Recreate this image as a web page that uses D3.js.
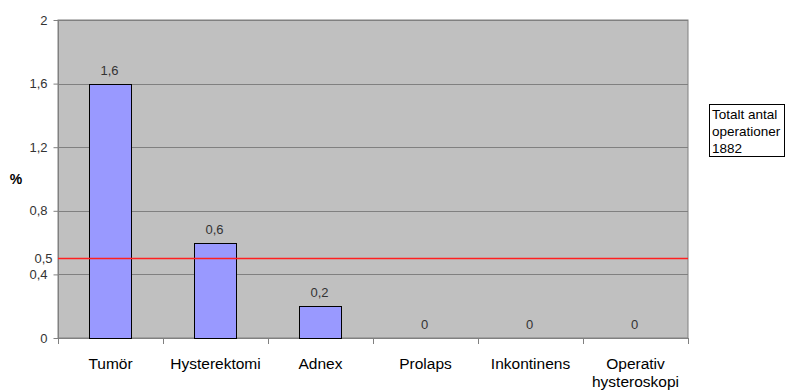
<!DOCTYPE html>
<html>
<head>
<meta charset="utf-8">
<script src="https://cdn.jsdelivr.net/npm/d3@7"></script>
<style>
  html, body { margin: 0; padding: 0; background: #fff; }
  svg { display: block; font-family: Arial, "Liberation Sans", sans-serif; }
</style>
</head>
<body>
<svg id="chart" width="785" height="392"></svg>
<script>
// Andel komplikationer per operationstyp (%)
const categories = [["Tumör"], ["Hysterektomi"], ["Adnex"], ["Prolaps"], ["Inkontinens"], ["Operativ", "hysteroskopi"]];
const values = [1.6, 0.6, 0.2, 0, 0, 0];
const valueLabels = ["1,6", "0,6", "0,2", "0", "0", "0"];
const yTicks = [0, 0.4, 0.8, 1.2, 1.6, 2];
const yTickLabels = ["0", "0,4", "0,8", "1,2", "1,6", "2"];
const referenceValue = 0.5;
const referenceLabel = "0,5";
const legendLines = ["Totalt antal", "operationer", "1882"];

const svg = d3.select("#chart");
const plot = { left: 58, right: 688, top: 20, bottom: 338 };

const x = d3.scaleBand()
  .domain(categories.map((c, i) => i))
  .range([plot.left, plot.right]);
const y = d3.scaleLinear().domain([0, 2]).range([plot.bottom, plot.top]);

// plot background
svg.append("rect")
  .attr("x", plot.left).attr("y", plot.top)
  .attr("width", plot.right - plot.left).attr("height", plot.bottom - plot.top)
  .attr("fill", "#c0c0c0")
  .attr("stroke", "#808080").attr("stroke-width", 1);

// horizontal gridlines
svg.append("g").selectAll("line")
  .data(yTicks.filter(t => t > 0))
  .join("line")
  .attr("x1", plot.left).attr("x2", plot.right)
  .attr("y1", d => Math.round(y(d)) + 0.5).attr("y2", d => Math.round(y(d)) + 0.5)
  .attr("stroke", "#808080").attr("stroke-width", 1);

// y axis
const yAxis = d3.axisLeft(y)
  .tickValues(yTicks)
  .tickFormat((d, i) => yTickLabels[i])
  .tickSize(5)
  .tickPadding(6);
const gy = svg.append("g")
  .attr("transform", `translate(${plot.left + 0.5},0)`)
  .call(yAxis);
gy.select(".domain").attr("stroke", "#808080").attr("d", `M0,${plot.top}V${plot.bottom}`);
gy.selectAll(".tick line").attr("stroke", "#808080");
gy.selectAll(".tick text")
  .attr("fill", "#333").attr("font-size", 13)
  .attr("font-family", "Arial, 'Liberation Sans', sans-serif");

// reference label on the y axis
svg.append("text")
  .attr("x", plot.left - 5.5).attr("y", y(referenceValue))
  .attr("dy", "0.32em").attr("text-anchor", "end")
  .attr("fill", "#333").attr("font-size", 13)
  .text(referenceLabel);

// x axis baseline and boundary ticks
const gx = svg.append("g");
gx.append("line")
  .attr("x1", plot.left).attr("x2", plot.right)
  .attr("y1", plot.bottom + 0.5).attr("y2", plot.bottom + 0.5)
  .attr("stroke", "#808080");
const bounds = categories.map((c, i) => x(i)).concat([x(categories.length - 1) + x.bandwidth()]);
gx.selectAll("line.tk")
  .data(bounds)
  .join("line")
  .attr("class", "tk")
  .attr("x1", d => Math.round(d) + 0.5).attr("x2", d => Math.round(d) + 0.5)
  .attr("y1", plot.bottom).attr("y2", plot.bottom + 6)
  .attr("stroke", "#808080");

// category labels
const catText = gx.selectAll("text.cat")
  .data(categories)
  .join("text")
  .attr("class", "cat")
  .attr("x", (d, i) => x(i) + x.bandwidth() / 2)
  .attr("y", 368.5)
  .attr("text-anchor", "middle")
  .attr("fill", "#000").attr("font-size", 15.5);
catText.selectAll("tspan")
  .data(d => d)
  .join("tspan")
  .attr("x", function () { return d3.select(this.parentNode).attr("x"); })
  .attr("dy", (d, i) => i === 0 ? 0 : 18)
  .text(d => d);

// bars
const barW = x.bandwidth() * 0.4;
svg.append("g").selectAll("rect")
  .data(values)
  .join("rect")
  .attr("x", (d, i) => Math.round(x(i) + (x.bandwidth() - barW) / 2) - 0.5)
  .attr("y", d => Math.round(y(d)) + 0.5)
  .attr("width", Math.round(barW))
  .attr("height", d => Math.max(0, Math.round(y(0)) - Math.round(y(d))))
  .attr("fill", "#9999ff")
  .attr("stroke", "#000").attr("stroke-width", 1)
  .style("display", d => d > 0 ? null : "none");

// reference line
svg.append("line")
  .attr("x1", plot.left).attr("x2", plot.right)
  .attr("y1", y(referenceValue)).attr("y2", y(referenceValue))
  .attr("stroke", "#ff2020").attr("stroke-width", 1.5);

// value labels
svg.append("g").selectAll("text")
  .data(values)
  .join("text")
  .attr("x", (d, i) => x(i) + x.bandwidth() / 2 - 1)
  .attr("y", d => y(d) - 9)
  .attr("text-anchor", "middle")
  .attr("fill", "#333").attr("font-size", 13)
  .text((d, i) => valueLabels[i]);

// axis title
svg.append("text")
  .attr("x", 16).attr("y", (plot.top + plot.bottom) / 2)
  .attr("dy", "0.35em").attr("text-anchor", "middle")
  .attr("font-weight", "bold").attr("font-size", 14).attr("fill", "#000")
  .text("%");

// legend box
const lg = svg.append("g").attr("transform", "translate(709.5,104.5)");
lg.append("rect")
  .attr("width", 75).attr("height", 52)
  .attr("fill", "#fff").attr("stroke", "#000");
lg.selectAll("text")
  .data(legendLines)
  .join("text")
  .attr("x", 2.5).attr("y", (d, i) => 14 + i * 17)
  .attr("font-size", 13.5).attr("fill", "#000")
  .text(d => d);
</script>
</body>
</html>
